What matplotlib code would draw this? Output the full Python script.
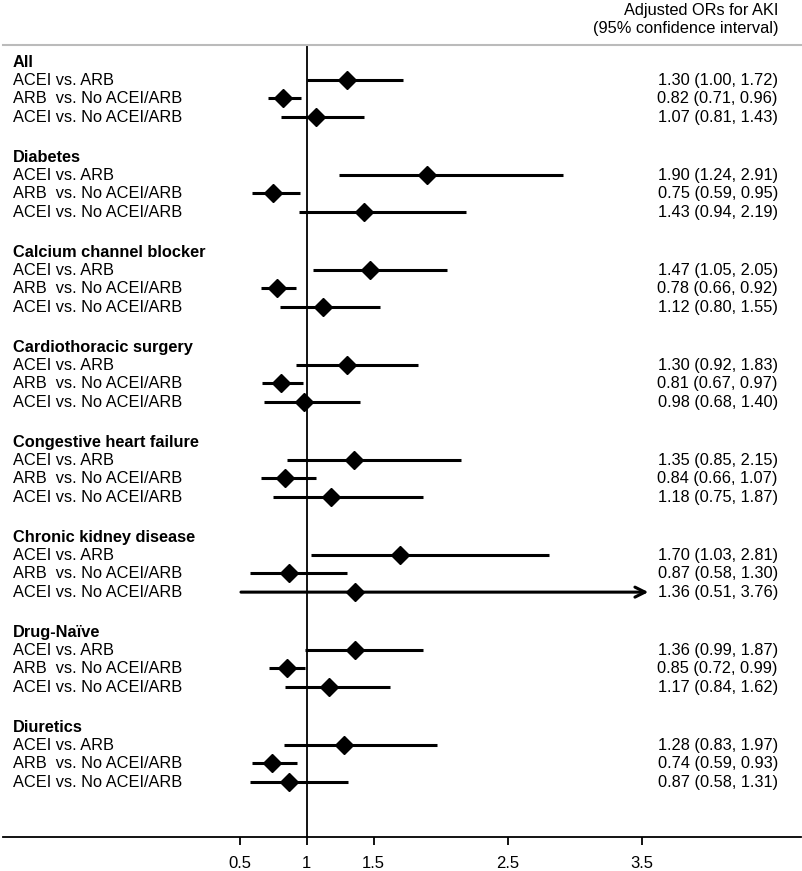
import matplotlib
matplotlib.use('Agg')
import matplotlib.pyplot as plt

plt.rcParams['font.family'] = ['Liberation Sans', 'DejaVu Sans']

groups = ['All', 'Diabetes', 'Calcium channel blocker', 'Cardiothoracic surgery',
          'Congestive heart failure', 'Chronic kidney disease', 'Drug-Naïve', 'Diuretics']
comparisons = ['ACEI vs. ARB', 'ARB  vs. No ACEI/ARB', 'ACEI vs. No ACEI/ARB']

# odds ratios and 95% CI, one list of 3 per group
or_vals = [[1.30, 0.82, 1.07], [1.90, 0.75, 1.43], [1.47, 0.78, 1.12], [1.30, 0.81, 0.98],
           [1.35, 0.84, 1.18], [1.70, 0.87, 1.36], [1.36, 0.85, 1.17], [1.28, 0.74, 0.87]]
ci_low = [[1.00, 0.71, 0.81], [1.24, 0.59, 0.94], [1.05, 0.66, 0.80], [0.92, 0.67, 0.68],
          [0.85, 0.66, 0.75], [1.03, 0.58, 0.51], [0.99, 0.72, 0.84], [0.83, 0.59, 0.58]]
ci_high = [[1.72, 0.96, 1.43], [2.91, 0.95, 2.19], [2.05, 0.92, 1.55], [1.83, 0.97, 1.40],
           [2.15, 1.07, 1.87], [2.81, 1.30, 3.76], [1.87, 0.99, 1.62], [1.97, 0.93, 1.31]]

xticks = [0.5, 1, 1.5, 2.5, 3.5]
xtick_labels = ['0.5', '1', '1.5', '2.5', '3.5']
x_cap = 3.55  # CIs beyond this get an arrow
row_off = [0.95, 1.9, 2.9]  # rows below each group header

fig = plt.figure(figsize=(8.03, 8.71), dpi=100)
ax = fig.add_axes([0.0037, 0.039, 0.9938, 0.9093])
tr = ax.get_yaxis_transform()

fs = 11.8
for g, name in enumerate(groups):
    yh = 5 * g
    ax.text(0.0125, yh, name, transform=tr, fontsize=fs, fontweight='bold',
            va='center', ha='left')
    for r, comp in enumerate(comparisons):
        y = yh + row_off[r]
        o, lo, hi = or_vals[g][r], ci_low[g][r], ci_high[g][r]
        ax.text(0.0125, y, comp, transform=tr, fontsize=fs, va='center', ha='left')
        ax.text(0.971, y, f'{o:.2f} ({lo:.2f}, {hi:.2f})', transform=tr,
                fontsize=fs, va='center', ha='right')
        if hi > x_cap:
            ax.annotate('', xy=(x_cap, y), xytext=(lo, y),
                        arrowprops=dict(arrowstyle='->', lw=2.2, color='black',
                                        mutation_scale=18, shrinkA=0, shrinkB=0))
        else:
            ax.plot([lo, hi], [y, y], color='black', lw=2.2, solid_capstyle='butt')
        ax.plot(o, y, marker='D', color='black', markersize=9, zorder=3)

ax.axvline(1, color='black', lw=1.3, zorder=1)

ax.set_xlim(-1.266, 4.689)
ax.set_ylim(40.79, -0.895)
ax.set_xticks(xticks)
ax.set_xticklabels(xtick_labels, fontsize=12)
ax.set_yticks([])
ax.tick_params(axis='x', direction='out', length=6, width=1.3, pad=8)
ax.spines['left'].set_visible(False)
ax.spines['right'].set_visible(False)
ax.spines['top'].set_color('#bbbbbb')
ax.spines['top'].set_linewidth(1.5)
ax.spines['bottom'].set_linewidth(1.3)

fig.text(778 / 803, 1 - 10 / 871, 'Adjusted ORs for AKI', fontsize=fs, ha='right', va='center')
fig.text(779 / 803, 1 - 28 / 871, '(95% confidence interval)', fontsize=fs, ha='right', va='center')

fig.savefig('out.png', dpi=100)
